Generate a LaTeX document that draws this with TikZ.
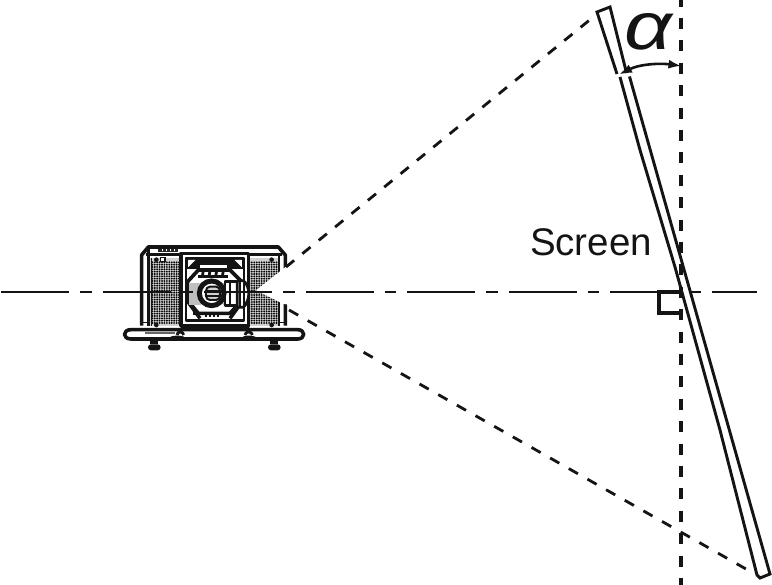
\documentclass[tikz,border=0pt]{standalone}
\usepackage{fontspec}
\setmainfont{Liberation Sans}
\usetikzlibrary{arrows.meta}
\colorlet{ink}{black!92}
\tikzset{
 ray/.style={line width=2.8pt,ink},
 axis/.style={line width=1.8pt,dash pattern=on 68pt off 11pt on 11.5pt off 11pt,ink},
 vert/.style={line width=3.2pt,dash pattern=on 11pt off 11.4pt,ink},
 scr/.style={line width=2.9pt,ink,line join=miter},
 pj/.style={line width=1.5pt,ink},
 pjt/.style={line width=2.8pt,ink,line join=round},
 pjx/.style={line width=3.6pt,ink,line join=round},
 angarrow/.style={line width=2.6pt,ink,{Latex[length=13pt,width=9pt]}-{Latex[length=13pt,width=9pt]}},
 lab/.style={inner sep=0pt,text=ink}
}
\begin{document}
\begin{tikzpicture}[x=1pt,y=-1pt]
\path[use as bounding box,fill=white] (0,0) rectangle (772,585);
% named points
\coordinate (rayTopS) at (286,267);
\coordinate (rayTop) at (597,14);
\coordinate (rayBotS) at (289,310);
\coordinate (rayBot) at (746,569);
\coordinate (axisL) at (1,292);
\coordinate (axisR) at (757,292);
\coordinate (vTop) at (681,-4.4);
\coordinate (vBot) at (681,585);
\coordinate (angL) at (619,74.5);
\coordinate (angR) at (681.5,66);
% projector (zoom coords: origin 115,235, scale 1/3)
\begin{scope}[shift={(115,235)},x=0.3333pt,y=-0.3333pt]
 \fill[black!18] (100,68) rectangle (200,272);
 \fill[black!18] (400,68) rectangle (492,272);
 % vents
 \foreach \xa/\xb/\n in {112/192/11,403/492/12}{
  \foreach \i in {0,...,\n}{
   \foreach \j in {0,...,26}{
    \fill[black] ({\xa+\i*(\xb-\xa)/\n},{82+\j*7.0}) circle (3.1);
   }}}
 % body
 \draw[pjx] (80,272) -- (80,60) -- (100,36) -- (490,36) -- (511,60) -- (511,272);
 \draw[pjt] (100,42) -- (100,272) (492,62) -- (492,272);
 \draw[pjt] (92,58) -- (500,58);
 \draw[pj] (110,68) -- (110,272) (80,262) -- (100,262) (492,262) -- (511,262);
 \fill[black!85] (128,41) rectangle (190,51);
 \foreach \x in {140,152,164,176}{\fill[white] (\x,43) rectangle (\x+3,49);}
 \foreach \x/\y in {124/74,124/270,470/74,470/270}{\fill[ink] (\x,\y) circle (7);}
 \draw[pj,fill=white] (137,67) rectangle (150,80);
 % base
 \draw[pjx,fill=white] (48,284) -- (548,284) .. controls (572,284) and (572,312) .. (548,312) -- (48,312) .. controls (22,312) and (22,284) .. (48,284) -- cycle;
 \fill[black!60] (90,292) rectangle (180,296);
 \draw[pjt] (186,300) .. controls (186,288) and (206,288) .. (206,300) (390,300) .. controls (390,288) and (412,288) .. (412,300);
 \draw[pjt] (160,314) .. controls (175,302) and (200,304) .. (216,314);
 \draw[pjt] (378,314) .. controls (390,302) and (415,304) .. (428,314);
 % feet
 \foreach \x in {118,478}{
  \fill[ink] (\x-12,312) rectangle (\x+12,328);
  \fill[ink,rounded corners=3pt] (\x-19,328) rectangle (\x+19,346);
 }
 % mask for the light cone
 \fill[white] (535,96) -- (514,94) -- (423,166) -- (503,206) -- (535,212) -- cycle;
\end{scope}
% centre panel (origin 180,250, scale 1/3)
\begin{scope}[shift={(180,250)},x=0.3333pt,y=-0.3333pt]
 \fill[white] (0,10) rectangle (205,232);
 \draw[pjx] (3,10) rectangle (205,228);
 \draw[pjt] (18,24) rectangle (192,212);
 \fill[ink] (20,26) rectangle (190,58);
 \fill[white] (60,45) rectangle (140,58);
 % corner triangles
 \foreach \a/\b/\c/\d in {24/30/46/52,186/30/164/52,24/206/46/184,186/206/164/184}{
  \fill[white] (\a,\b) -- (\c,\b) -- (\a,\d) -- cycle;
 }
 % lens mount body
 \draw[pjx,fill=white] (22,96) -- (55,60) -- (150,60) -- (186,96) -- (186,150) -- (150,190) -- (55,190) -- (22,150) -- cycle;
 \draw[pjx] (20,150) -- (60,205) (190,150) -- (150,205);
 \draw[pjt] (60,62) -- (135,62) (55,80) -- (145,80);
 \foreach \x in {70,90,110,130}{\draw[pjt] (\x,62) -- (\x-3,80);}
 \fill[black!25] (28,100) rectangle (62,165);
 \fill[black!25] (130,100) rectangle (175,165);
 \foreach \x in {78,90,102,114}{\fill[ink] (\x-3,185) rectangle (\x+3,200);}
 \draw[pjt] (40,190) -- (160,190);
 % barrel and dome
 \draw[pjt,fill=white] (135,95) rectangle (172,167);
 \draw[pj] (150,95) -- (150,167);
 \draw[pjt,fill=white] (172,92) -- (190,92) .. controls (212,110) and (212,150) .. (190,172) -- (172,172) -- cycle;
 \draw[pjt] (180,92) -- (180,172) (192,100) -- (192,165);
 % lens
 \draw[line width=5pt,ink,fill=white] (95,130) circle (37);
 \draw[line width=2pt,ink,fill=black!18,rounded corners=4pt] (78,110) rectangle (120,150);
 \draw[line width=1.2pt,ink] (78,122) -- (120,122) (78,138) -- (120,138);
\end{scope}
% axes and rays
\draw[axis] (axisL) -- (axisR);
\draw[ray,dash pattern=on 10.5pt off 10.6pt] (rayTopS) -- (rayTop);
\draw[ray,dash pattern=on 10.5pt off 10.94pt] (rayBotS) -- (rayBot);
% screen
\path (597,12) coordinate (sTL) (610,7) coordinate (sTR)
      (617,74) coordinate (sL1) (626.5,73) coordinate (sR1)
      (620,77) coordinate (sL2) (629.5,76.5) coordinate (sR2)
      (640,150) coordinate (sL3) (675,267) coordinate (sL4) (720,430) coordinate (sL5)
      (757,575) coordinate (sBL) (760,578) coordinate (sBM) (770,574) coordinate (sBR);
\fill[white] (sL4) -- (683.5,267) -- (sBR) -- (sBL) -- cycle;
\draw[vert] (vTop) -- (vBot);
\draw[line width=3.2pt,ink] (681,292) -- (659,292) -- (659,313) -- (681,313);
\draw[scr] (sL1) -- (sTL) -- (sTR) -- (sR1);
\draw[scr] (sL2) -- (sL3) -- (sL4) -- (sL5) -- (sBL) -- (sBM) -- (sBR) -- (sR2);
% angle
\draw[angarrow] (angL) .. controls (640,64) and (660,63) .. (angR);
\node[lab,font=\fontsize{38.5}{40}\selectfont,anchor=base] (screenlab) at (591,256) {Screen};
\node[lab,font=\fontsize{67}{67}\selectfont\itshape,anchor=base,xscale=1.25] (alphalab) at (648,50) {α};
\end{tikzpicture}
\end{document}
